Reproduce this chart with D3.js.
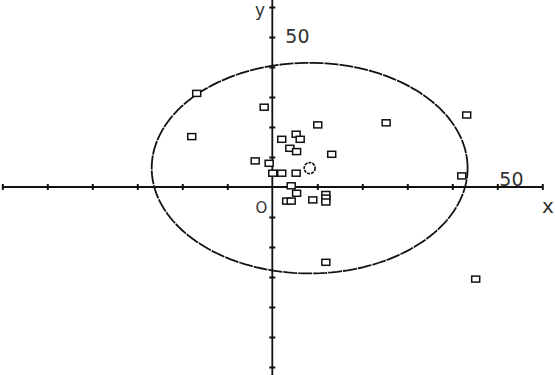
<!DOCTYPE html>
<html>
<head>
<meta charset="utf-8">
<script src="https://cdn.jsdelivr.net/npm/d3@7"></script>
<style>
  html, body { margin: 0; padding: 0; background: #fff; }
  svg { display: block; }
  text { font-family: "DejaVu Sans", sans-serif; fill: #333; }
</style>
</head>
<body>
<svg id="chart" width="555" height="375"></svg>
<script>
// Scatter of sample points with their 35-unit circle around the mean
const pointX = [-16.8, -1.8, -17.9, 10.1, 25.3, 43.2, 2.1, 5.3, 6.2, 3.9, 5.4, 13.2,
                -3.8, -0.7, 0.1, 2.1, 5.3, 42.1, 4.2, 5.4, 3.2, 4.2, 9.0,
                11.9, 11.9, 11.9, 11.9, 45.2];
const pointY = [31.2, 26.6, 16.8, 20.7, 21.4, 24.0, 15.9, 17.6, 15.9, 12.9, 11.8, 10.9,
                8.7, 7.9, 4.6, 4.6, 4.6, 3.7, 0.4, -2.1, -4.7, -4.7, -4.3,
                -2.5, -3.7, -5.0, -25.1, -30.7];
const centerPoint = [8.3, 6.3];
const circleRadius = [35.1];
const tickValues = [-60, -50, -40, -30, -20, -10, 10, 20, 30, 40, 50, 60];
const tickLabels = ["50"];
const axisNames = ["x", "y"];

const svg = d3.select("#chart");
const x = d3.scaleLinear().domain([-60, 60]).range([2.3, 542.3]);
const y = d3.scaleLinear().domain([-60, 60]).range([367, 7]);

const ink = "#111";

// axis lines
svg.append("line")
  .attr("x1", x(-60)).attr("x2", x(60))
  .attr("y1", y(0)).attr("y2", y(0))
  .attr("stroke", ink).attr("stroke-width", 1.8);
svg.append("line")
  .attr("x1", x(0)).attr("x2", x(0))
  .attr("y1", 0).attr("y2", 375)
  .attr("stroke", ink).attr("stroke-width", 1.8);

// tick marks, centred on each axis
const gx = svg.append("g")
  .attr("transform", `translate(0,${y(0) - 3})`)
  .call(d3.axisBottom(x).tickValues(tickValues).tickSize(6).tickFormat(""));
gx.select(".domain").remove();
gx.selectAll(".tick line").attr("stroke", ink).attr("stroke-width", 2);

const gy = svg.append("g")
  .attr("transform", `translate(${x(0) + 3},0)`)
  .call(d3.axisLeft(y).tickValues(tickValues).tickSize(6).tickFormat(""));
gy.select(".domain").remove();
gy.selectAll(".tick line").attr("stroke", ink).attr("stroke-width", 2);

// tick labels at 50
svg.append("text")
  .attr("x", x(+tickLabels[0]) + 2).attr("y", y(0) - 1)
  .attr("font-size", 19).attr("fill", "#444").text(tickLabels[0]);
svg.append("text")
  .attr("x", x(0) + 13).attr("y", y(+tickLabels[0]) + 6)
  .attr("font-size", 19).attr("fill", "#444").text(tickLabels[0]);

// axis names and origin
svg.append("text")
  .attr("x", 542).attr("y", 213)
  .attr("font-size", 20).attr("fill", "#444").text(axisNames[0]);
svg.append("text")
  .attr("x", 255).attr("y", 16)
  .attr("font-size", 17).attr("fill", "#444").text(axisNames[1]);
svg.append("text")
  .attr("x", 255.5).attr("y", 213)
  .attr("font-size", 15).attr("fill", "#444").text("O");

// circle around the centre (elliptical on screen because of unequal scales)
const circlePts = d3.range(0, 361, 2).map(a => {
  const t = a * Math.PI / 180;
  return [centerPoint[0] + circleRadius[0] * Math.cos(t),
          centerPoint[1] + circleRadius[0] * Math.sin(t)];
});
svg.append("path")
  .datum(circlePts)
  .attr("d", d3.line().x(d => x(d[0])).y(d => y(d[1])))
  .attr("fill", "none")
  .attr("stroke", ink)
  .attr("stroke-width", 1.8)
  .attr("stroke-dasharray", "14,1");

// centre marker
svg.append("ellipse")
  .attr("cx", x(centerPoint[0])).attr("cy", y(centerPoint[1]))
  .attr("rx", 5.5).attr("ry", 5.5)
  .attr("fill", "none").attr("stroke", ink)
  .attr("stroke-width", 1.6).attr("stroke-dasharray", "3,1");

// square markers
const pts = pointX.map((v, i) => [v, pointY[i]]);
svg.append("g").selectAll("rect")
  .data(pts)
  .join("rect")
  .attr("x", d => x(d[0]) - 4)
  .attr("y", d => y(d[1]) - 3)
  .attr("width", 8).attr("height", 6)
  .attr("fill", "#fff")
  .attr("stroke", ink)
  .attr("stroke-width", 1.5);
</script>
</body>
</html>
